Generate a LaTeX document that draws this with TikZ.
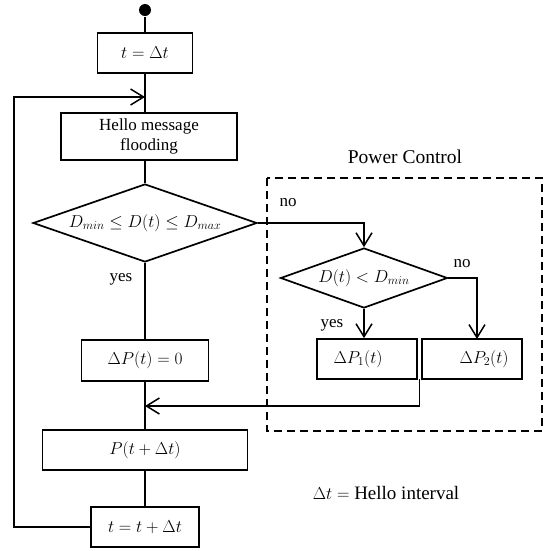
\documentclass[tikz,border=0pt]{standalone}
\usepackage{fontspec}
\setmainfont{Liberation Serif}
\usetikzlibrary{shapes.geometric,arrows.meta}
\begin{document}
\begin{tikzpicture}[x=1pt,y=-1pt, line width=1.7pt,
 fs/.style={font=\fontsize{17.5}{20.5}\selectfont},
 box/.style={draw, rectangle, inner sep=0pt, fs, align=center},
 dec/.style={draw, diamond, inner sep=0pt, fs},
 lbl/.style={fs, inner sep=0pt},
 arr/.style={-{Straight Barb[length=13pt,width=16pt,line width=1.5pt]}}]
\useasboundingbox (0,0) rectangle (555,550);
% main column
\node[circle, fill, inner sep=0pt, minimum size=12pt] (start) at (145,10) {};
\node[box, minimum width=95pt, minimum height=40pt] (b1) at (145,53) {$t=\Delta t$};
\node[box, minimum width=176pt, minimum height=47pt, font=\fontsize{17}{20}\selectfont] (hello) at (149,136.5) {Hello message\\flooding};
\node[dec, shape aspect=2.87, minimum width=224pt, minimum height=78pt] (d1) at (145,223) {$D_{min}\le D(t)\le D_{max}$};
\node[box, minimum width=127pt, minimum height=41pt] (dP) at (145,360.5) {$\Delta P(t)=0$};
\node[box, minimum width=205pt, minimum height=40pt] (P) at (145,450) {$P(t+\Delta t)$};
\node[box, minimum width=108pt, minimum height=40pt] (tt) at (145,527) {$t=t+\Delta t$};
% power control
\node[lbl, font=\fontsize{19.5}{22}\selectfont] (pctitle) at (405,157) {Power Control};
\draw[dashed, dash pattern=on 8pt off 5pt, line width=1.6pt] (267,178) rectangle (542,431);
\node[dec, shape aspect=2.78, minimum width=167pt, minimum height=60pt] (d2) at (364,278) {$D(t)<D_{min}$};
\node[box, minimum width=100pt, minimum height=40pt] (P1) at (367,359) {$\Delta P_1(t)$\hspace{18pt}};
\node[box, minimum width=100pt, minimum height=40pt] (P2) at (472,359) {\hspace{24pt}$\Delta P_2(t)$};
% labels
\node[lbl, font=\fontsize{17}{20}\selectfont] (yes1) at (121,279) {yes};
\node[lbl, font=\fontsize{17}{20}\selectfont] (no1) at (288,203) {no};
\node[lbl, font=\fontsize{17}{20}\selectfont] (no2) at (462,264) {no};
\node[lbl, font=\fontsize{17}{20}\selectfont] (yes2) at (332,325) {yes};
\node[lbl, font=\fontsize{19}{22}\selectfont] (note) at (386,493) {$\Delta t = {}$Hello interval};
% coordinates
\coordinate (loopL) at (14,97);
\coordinate (loopin) at (145,97);
\coordinate (p2in) at (477,339);
\coordinate (ret) at (419.5,379);
\coordinate (retin) at (145,406);
% connectors
\draw (start) -- (b1);
\draw (b1.south) -- (b1.south |- hello.north);
\draw (b1.south |- hello.south) -- (d1.north);
\draw (d1.south) -- (dP.north);
\draw (dP.south) -- (P.north);
\draw (P.south) -- (tt.north);
\draw[arr] (tt.west) -| (loopL) -- (loopin);
\draw[arr] (d1.east) -| (d2.north);
\draw[arr] (d2.east) -| (p2in);
\draw[arr] (d2.south) -- (d2.south |- P1.north);
\draw[arr] (ret) |- (retin);
\end{tikzpicture}
\end{document}
